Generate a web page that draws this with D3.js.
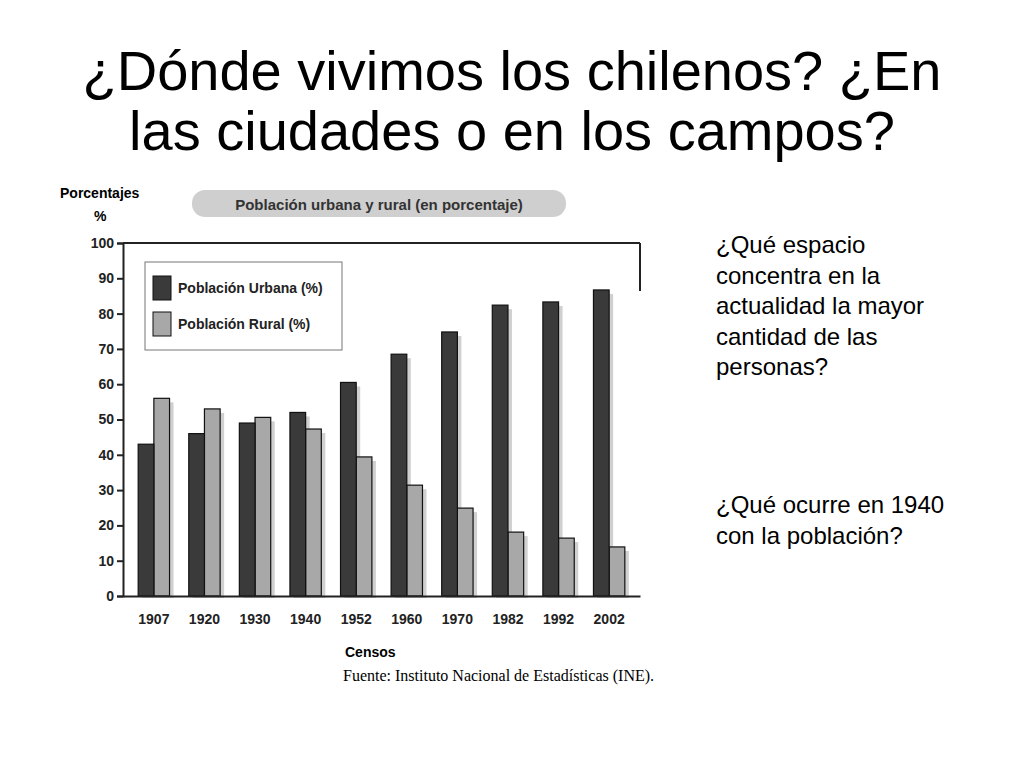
<!DOCTYPE html>
<html><head><meta charset="utf-8">
<script src="https://cdn.jsdelivr.net/npm/d3@7"></script>
<style>body{margin:0;background:#fff;font-family:"Liberation Sans",Arial,sans-serif}</style>
</head><body><svg width="1024" height="768"></svg>
<script>
// census years and shares
const years = ["1907","1920","1930","1940","1952","1960","1970","1982","1992","2002"];
const urbana = [43, 46, 49, 52, 60.5, 68.5, 74.8, 82.4, 83.3, 86.7];
const rural = [56, 53, 50.6, 47.3, 39.4, 31.4, 24.9, 18.1, 16.4, 13.9];
const yTicks = [0,10,20,30,40,50,60,70,80,90,100];

const svg = d3.select("svg");

// slide title
svg.append("text").attr("x", 512).attr("y", 90).attr("text-anchor", "middle")
  .attr("font-size", 56).text("¿Dónde vivimos los chilenos? ¿En");
svg.append("text").attr("x", 512).attr("y", 150).attr("text-anchor", "middle")
  .attr("font-size", 56).text("las ciudades o en los campos?");

// questions on the right
const q = [["¿Qué espacio", "concentra en la", "actualidad la mayor", "cantidad de las", "personas?"],
           ["¿Qué ocurre en 1940", "con la población?"]];
[[253, q[0]], [513, q[1]]].forEach(([y0, lines]) => {
  lines.forEach((l, i) => svg.append("text").attr("x", 716).attr("y", y0 + i * 30.5)
    .attr("font-size", 24).text(l));
});

const margin = {top: 243, left: 123, right: 384, bottom: 172};
const plotW = 1024 - margin.left - margin.right;
const plotH = 768 - margin.top - margin.bottom;
const plot = svg.append("g").attr("transform", "translate(" + margin.left + "," + margin.top + ")");

const y = d3.scaleLinear().domain([0, 100]).range([plotH, 0]);
const x = d3.scaleBand().domain(years).range([0, plotW]).paddingInner(0.38).paddingOuter(0.3);
const bw = x.bandwidth() / 2;

// bar shadows
const shadow = (vals, off) => plot.selectAll(null).data(vals).enter().append("rect")
  .attr("x", (d, i) => x(years[i]) + off + 4).attr("y", d => y(d) + 4)
  .attr("width", bw).attr("height", d => plotH - y(d) - 2)
  .attr("fill", "#d0d0d0");
shadow(rural, bw);
shadow(urbana, 0);

plot.selectAll(".rur").data(rural).enter().append("rect")
  .attr("x", (d, i) => x(years[i]) + bw).attr("y", d => y(d))
  .attr("width", bw).attr("height", d => plotH - y(d))
  .attr("fill", "#a8a8a8").attr("stroke", "#111").attr("stroke-width", 1.2);
plot.selectAll(".urb").data(urbana).enter().append("rect")
  .attr("x", (d, i) => x(years[i])).attr("y", d => y(d))
  .attr("width", bw).attr("height", d => plotH - y(d))
  .attr("fill", "#3a3a3a").attr("stroke", "#111").attr("stroke-width", 1.2);

// frame
plot.append("line").attr("x1", 0).attr("x2", plotW).attr("y1", 0).attr("y2", 0).attr("stroke", "#222").attr("stroke-width", 2);
plot.append("line").attr("x1", plotW).attr("x2", plotW).attr("y1", 0).attr("y2", 48).attr("stroke", "#222").attr("stroke-width", 2);

const yAxis = plot.append("g").call(d3.axisLeft(y).tickValues(yTicks).tickSize(6));
yAxis.selectAll("text").attr("font-size", 14).attr("font-weight", "bold").attr("fill", "#222");
yAxis.selectAll("path,line").attr("stroke", "#222").attr("stroke-width", 2);

const xAxis = plot.append("g").attr("transform", "translate(0," + plotH + ")")
  .call(d3.axisBottom(x).tickSize(0).tickPadding(18));
xAxis.selectAll("text").attr("font-size", 14).attr("font-weight", "bold").attr("fill", "#222");
xAxis.selectAll("path").attr("stroke", "#222").attr("stroke-width", 2);

// labels
svg.append("text").attr("x", 60).attr("y", 198).attr("font-size", 14).attr("font-weight", "bold").text("Porcentajes");
svg.append("text").attr("x", 94).attr("y", 221).attr("font-size", 14).attr("font-weight", "bold").text("%");
svg.append("rect").attr("x", 192).attr("y", 190).attr("width", 374).attr("height", 27).attr("rx", 13).attr("fill", "#cfcfcf");
svg.append("text").attr("x", 379).attr("y", 210).attr("text-anchor", "middle").attr("font-size", 15)
  .attr("font-weight", "bold").attr("fill", "#333").text("Población urbana y rural (en porcentaje)");
svg.append("text").attr("x", 345).attr("y", 657).attr("font-size", 14).attr("font-weight", "bold").text("Censos");
svg.append("text").attr("x", 343).attr("y", 681).attr("font-size", 16)
  .attr("font-family", "Liberation Serif, serif").text("Fuente: Instituto Nacional de Estadísticas (INE).");

// legend
const lg = svg.append("g");
lg.append("rect").attr("x", 145).attr("y", 262).attr("width", 197).attr("height", 88).attr("fill", "#fff").attr("stroke", "#777");
[["Población Urbana (%)", "#3a3a3a"], ["Población Rural (%)", "#a8a8a8"]].forEach(([t, c], i) => {
  lg.append("rect").attr("x", 153).attr("y", 276 + i * 36).attr("width", 18).attr("height", 24)
    .attr("fill", c).attr("stroke", "#111");
  lg.append("text").attr("x", 178).attr("y", 293 + i * 36).attr("font-size", 14).attr("font-weight", "bold")
    .attr("fill", "#222").text(t);
});
</script></body></html>
